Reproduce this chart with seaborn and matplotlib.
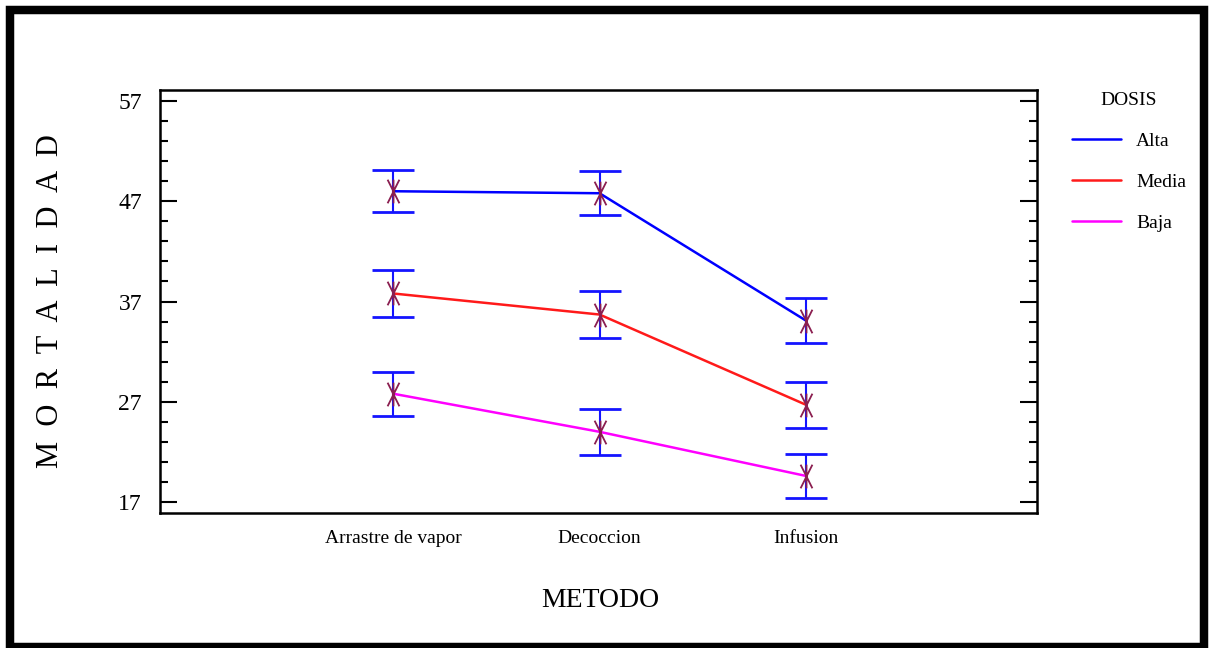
import numpy as np
import pandas as pd
import matplotlib
matplotlib.use("Agg")
import matplotlib.pyplot as plt
import seaborn as sns
from matplotlib.path import Path
from matplotlib.patches import Rectangle
from matplotlib.ticker import FixedLocator, MultipleLocator

# Mean mortality by extraction method and dose, with interval half-widths
metodos = ["Arrastre de vapor", "Decoccion", "Infusion"]
dosis = ["Alta", "Media", "Baja"]
media_alta = [48.0, 47.8, 35.1]
media_media = [37.8, 35.7, 26.7]
media_baja = [27.8, 24.0, 19.6]
err_alta = [2.1, 2.2, 2.2]
err_media = [2.3, 2.3, 2.3]
err_baja = [2.2, 2.3, 2.2]
y_ticks = [17, 27, 37, 47, 57]

df = pd.DataFrame({
    "METODO": metodos * 3,
    "DOSIS": np.repeat(dosis, len(metodos)),
    "MORTALIDAD": media_alta + media_media + media_baja,
    "ERR": err_alta + err_media + err_baja,
})

sns.set_style("white")
plt.rcParams["font.family"] = ["Liberation Serif", "DejaVu Serif"]
plt.rcParams.update({
    "text.color": "black", "axes.labelcolor": "black",
    "xtick.color": "black", "ytick.color": "black",
})

W, H = 1214, 648
fig = plt.figure(figsize=(W / 100, H / 100), dpi=100)
fig.patch.set_facecolor("white")
ax = fig.add_axes([160 / W, 1 - 513 / H, 877 / W, 423 / H])

colores = {"Alta": "#0000FF", "Media": "#FF1A1A", "Baja": "#FF00FF"}
sns.pointplot(
    data=df, x="METODO", y="MORTALIDAD", hue="DOSIS",
    order=metodos, hue_order=dosis, palette=colores,
    errorbar=None, markers="", linewidth=1.8, ax=ax, zorder=2,
)

# interval bars
ax.errorbar(
    df["METODO"], df["MORTALIDAD"], yerr=df["ERR"], fmt="none",
    ecolor="#1414FF", elinewidth=1.5, capsize=15, capthick=2.0, zorder=3,
)

# asterisk-style mean markers
ast = Path(
    [(-0.5, -1), (0.5, 1), (0.5, -1), (-0.5, 1), (0, -1), (0, 1)],
    [Path.MOVETO, Path.LINETO] * 3,
)
ax.plot(
    df["METODO"], df["MORTALIDAD"], linestyle="none", marker=ast,
    markersize=17, markeredgecolor="#8B1E50", markeredgewidth=1.3, zorder=4,
)

ax.set_xlim(-1.13, 3.12)
ax.set_ylim(15.9, 58.1)
ax.yaxis.set_major_locator(FixedLocator(y_ticks))
ax.yaxis.set_minor_locator(MultipleLocator(2, offset=1))

for s in ax.spines.values():
    s.set_visible(True)
    s.set_color("black")
    s.set_linewidth(1.8)

ax.tick_params(axis="y", which="both", direction="in", left=True, right=True,
               width=1.5, color="black", labelsize=17, pad=13)
ax.tick_params(axis="y", which="major", length=12)
ax.tick_params(axis="y", which="minor", length=5.5)
ax.tick_params(axis="x", which="both", length=0, labelsize=14, pad=12)

ax.set_xlabel("METODO", fontsize=20, va="center")
ax.xaxis.set_label_coords(0.5017, -0.208)
ax.set_ylabel("M  O  R  T  A  L  I  D  A  D", fontsize=22, va="center")
ax.yaxis.set_label_coords(-0.125, 0.501)

sns.move_legend(
    ax, loc="upper left", bbox_to_anchor=(1072 / W, 1 - 92 / H),
    bbox_transform=fig.transFigure, frameon=False, title="DOSIS",
    fontsize=14, title_fontsize=14, handlelength=2.5, handletextpad=0.8,
    labelspacing=1.2, borderpad=0, borderaxespad=0,
)

# outer black frame
fig.patches.append(Rectangle(
    (10 / W, 1.5 / H), 1193.5 / W, (H - 11.5) / H,
    transform=fig.transFigure, fill=False, edgecolor="black", linewidth=6.1,
))

fig.savefig("out.png", dpi=100)
